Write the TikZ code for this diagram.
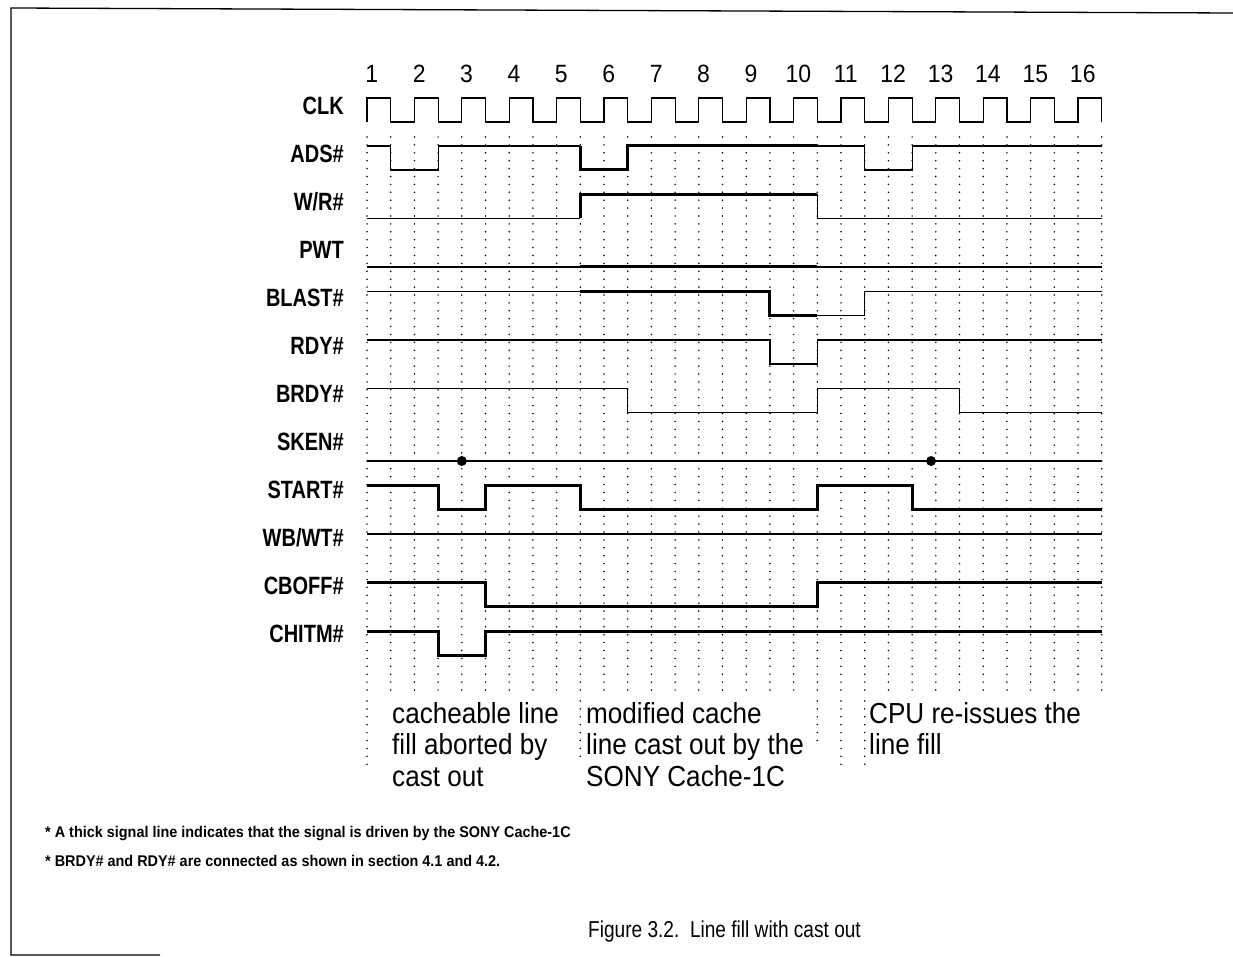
\documentclass[tikz,border=0pt]{standalone}
\usepackage{fontspec}
\setmainfont{Liberation Sans}
\newfontfamily\sigfont[FakeStretch=0.8]{Liberation Sans}
\newfontfamily\cycfont[FakeStretch=0.92]{Liberation Sans}
\newfontfamily\annofont[FakeStretch=0.9]{Liberation Sans}
\newfontfamily\remfont[FakeStretch=0.93]{Liberation Sans}
\newfontfamily\capnfont[FakeStretch=0.83]{Liberation Sans}
\usepackage{tikz}
\usetikzlibrary{positioning}

\begin{document}
\begin{tikzpicture}[x=1pt, y=-1pt,
    thin sig/.style={line width=1.2pt, line join=miter},
    thick sig/.style={line width=3pt, line join=miter},
    griddot/.style={line width=1.7pt, line cap=round, dash pattern=on 0pt off 7.9pt},
    siglabel/.style={anchor=east, inner sep=0pt, font=\sigfont\bfseries\fontsize{25}{28}\selectfont},
    cyclenum/.style={anchor=base, inner sep=0pt, font=\cycfont\fontsize{25}{28}\selectfont},
    note/.style={anchor=north west, inner sep=0pt, align=left, font=\annofont\fontsize{29}{31.5}\selectfont},
    row/.style={yshift={-(146+48.5*(#1-1))*1pt}}]
  \useasboundingbox (0,0) rectangle (1233,957);
  \draw[line width=1.3pt] (1233,13) -- (11,8) -- (11,955) -- (160,955);

  \foreach \s [count=\i from 0] in {CLK, ADS\#, W/R\#, PWT, BLAST\#, RDY\#, BRDY\#, SKEN\#, START\#, WB/WT\#, CBOFF\#, CHITM\#}
    \node[siglabel] (sig\i) at (344,{106+48*\i}) {\s};

  \begin{scope}[x=23.7pt, xshift=367pt]
    \foreach \n in {1,...,16}
      \node[cyclenum] (cyc\n) at ({2*\n-1.8},83) {\n};
    \draw[thin sig] (0,122) foreach \c in {0,...,14} { |- ({2*\c+1},98) |- ({2*\c+2},122) } |- (31,98) -- (31,122);

    \foreach \k in {0,...,31}
      \draw[griddot] (\k,137) -- (\k,693);
    \foreach \k/\e in {0/767, 9/760, 19/745, 20/767, 21/772}
      \draw[griddot] (\k,701) -- (\k,\e);

    \begin{scope}[row=1]
      \draw[thin sig] (0,0) -| (1,24) -| (3,0) -- (9,0);
      \draw[thick sig] (9,0) -- (9,24) -| (11,0) -- (19,0);
      \draw[thin sig] (19,0) -| (21,24) -| (23,0) -- (31,0);
    \end{scope}
    \begin{scope}[row=2]
      \draw[thin sig] (0,24) -- (9,24);
      \draw[thick sig] (9,24) |- (19,0);
      \draw[thin sig] (19,0) |- (31,24);
    \end{scope}
    \begin{scope}[row=3]
      \draw[thin sig] (0,24) -- (9,24) (19,24) -- (31,24);
      \draw[thick sig] (9,24) -- (19,24);
    \end{scope}
    \begin{scope}[row=4]
      \draw[thin sig] (0,0) -- (9,0);
      \draw[thick sig] (9,0) -| (17,24) -- (19,24);
      \draw[thin sig] (19,24) -| (21,0) -- (31,0);
    \end{scope}
    \begin{scope}[row=5]
      \draw[thin sig] (0,0) -| (17,24) -| (19,0) -- (31,0);
    \end{scope}
    \begin{scope}[row=6]
      \draw[thin sig] (0,0) -| (11,24) -| (19,0) -| (25,24) -- (31,24);
    \end{scope}
    \begin{scope}[row=7]
      \draw[thin sig] (0,24) -- (31,24);
      \fill (4,24) circle[radius=5pt] (23.8,24) circle[radius=5pt];
    \end{scope}
    \begin{scope}[row=8]
      \draw[thick sig] (0,0) -| (3,24) -| (5,0) -| (9,24) -| (19,0) -| (23,24) -- (31,24);
    \end{scope}
    \begin{scope}[row=9]
      \draw[thin sig] (0,0) -- (31,0);
    \end{scope}
    \begin{scope}[row=10]
      \draw[thick sig] (0,0) -| (5,24) -| (19,0) -- (31,0);
    \end{scope}
    \begin{scope}[row=11]
      \draw[thick sig] (0,0) -| (3,24) -| (5,0) -- (31,0);
    \end{scope}
  \end{scope}

  \node[note] (abort) at (392,702) {cacheable line\\fill aborted by\\cast out};
  \node[note] (castout) at (586,702) {modified cache\\line cast out by the\\SONY Cache-1C};
  \node[note] (reissue) at (869,702) {CPU re-issues the\\line fill};

  \node[anchor=north west, inner sep=0pt, align=left, font=\remfont\bfseries\fontsize{15.5}{29}\selectfont] (remarks) at (45,826)
    {* A thick signal line indicates that the signal is driven by the SONY Cache-1C\\* BRDY\# and RDY\# are connected as shown in section 4.1 and 4.2.};
  \node[font=\capnfont\fontsize{23}{26}\selectfont] (caption) at (724.5,932) {Figure 3.2.\ \ Line fill with cast out};
\end{tikzpicture}
\end{document}
